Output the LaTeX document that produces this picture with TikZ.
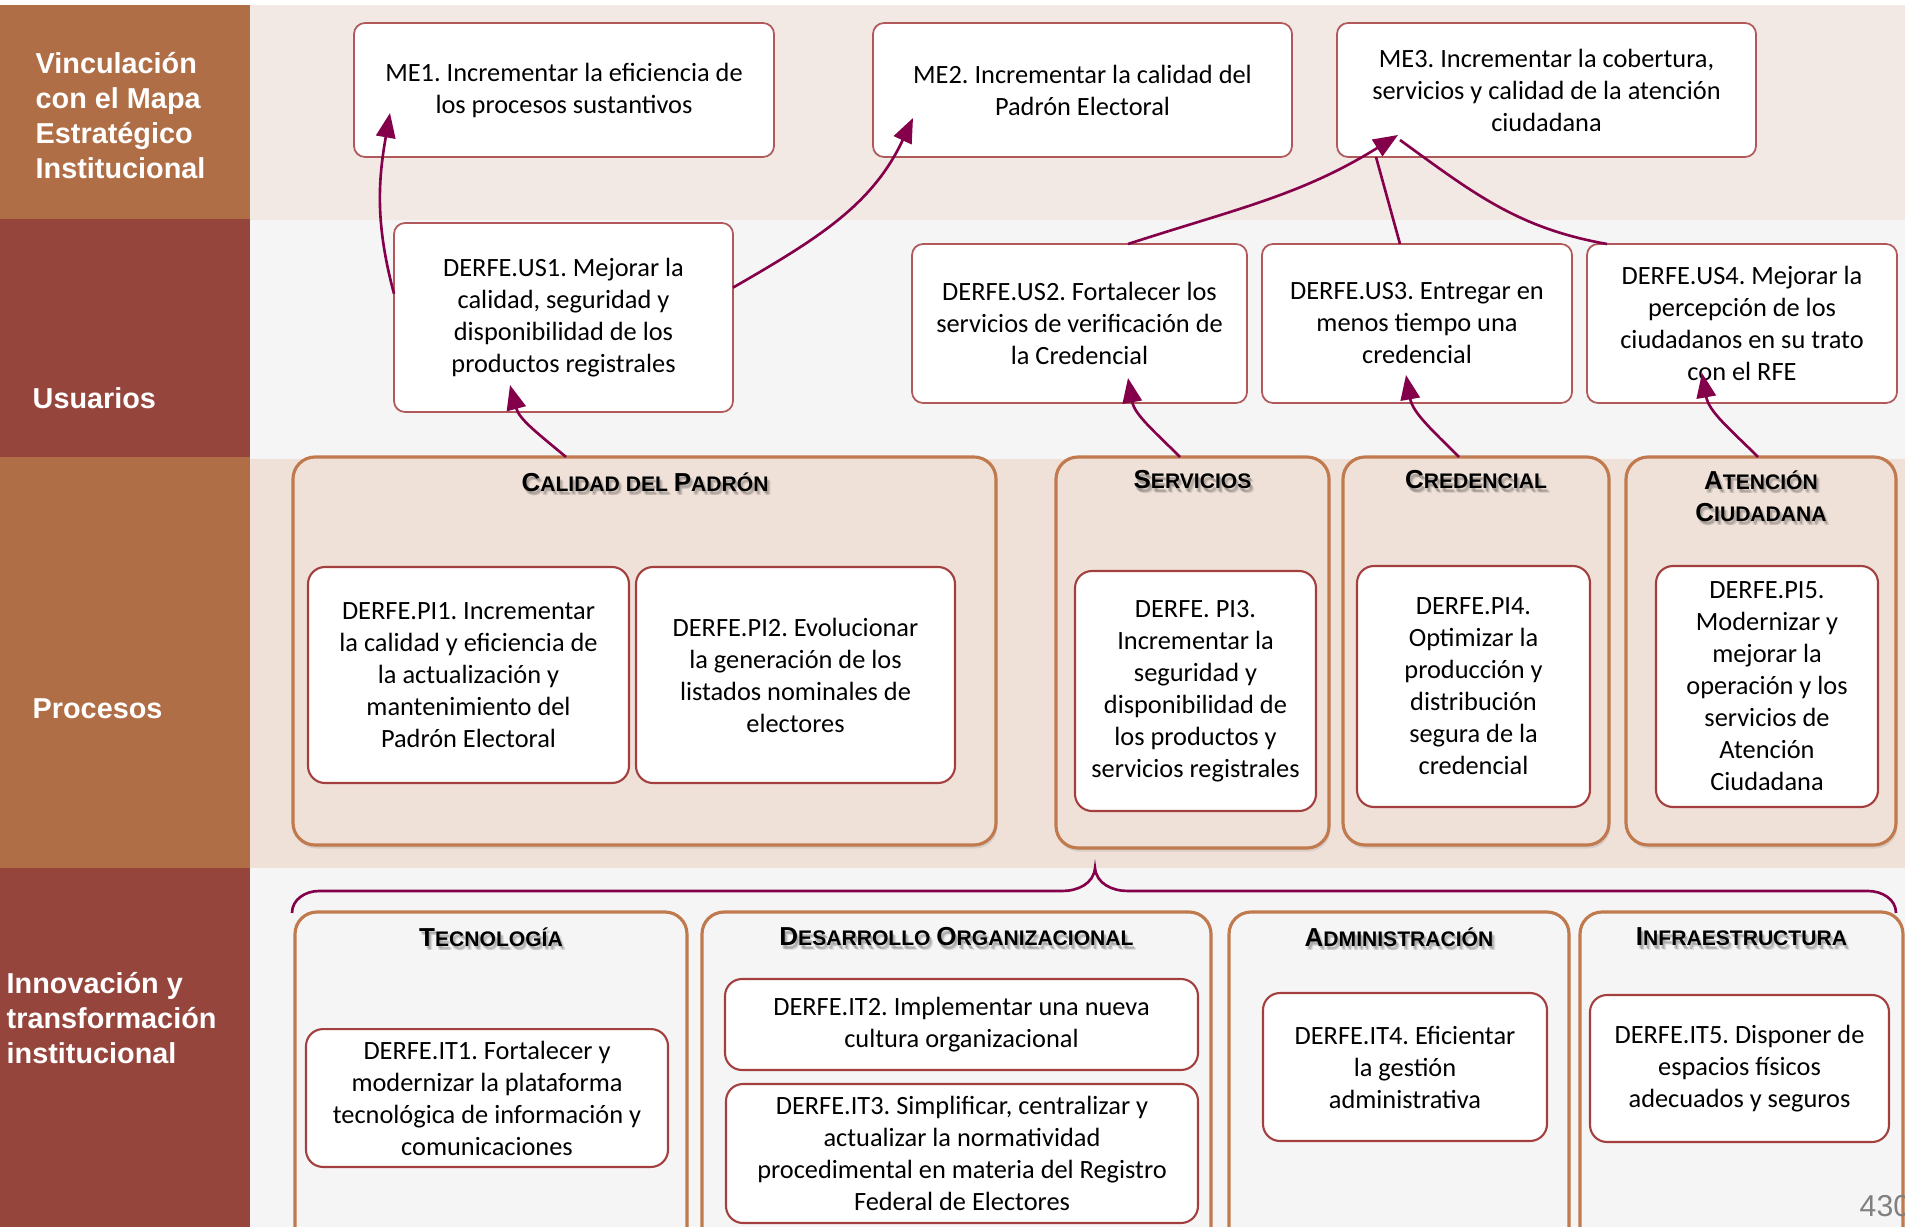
\documentclass[tikz,border=0pt]{standalone}
\usepackage{fontspec}
\setmainfont{Carlito}
\newfontfamily\arialfont{Liberation Sans}
\usetikzlibrary{calc,arrows.meta,shadows}
\frenchspacing

\definecolor{sideorange}{HTML}{B06E46}
\definecolor{sidered}{HTML}{96453C}
\definecolor{bandpink}{HTML}{F2E9E4}
\definecolor{bandgray}{HTML}{F5F5F5}
\definecolor{bandbeige}{HTML}{EFE1D8}
\definecolor{boxline}{HTML}{B0585A}
\definecolor{innerline}{HTML}{A3403F}
\definecolor{groupline}{HTML}{C07A4E}
\definecolor{linkred}{HTML}{84004A}

\def\scfirst#1{{\fontsize{7.4pt}{7.4pt}\selectfont #1}}
\def\sectitle(#1)(#2)#3{%
	\foreach \sx/\sy in {0.012/-0.022, 0.025/-0.035, 0.035/-0.045, 0.018/-0.04}
		\node[titleshade] at ($(#2)+(\sx,\sy)$) {#3};
	\node[titletext] (#1) at (#2) {#3};}

\tikzset{
	sidelabel/.style={anchor=west, align=left, inner sep=0pt, text=white, font=\arialfont\bfseries\fontsize{8.2pt}{10pt}\selectfont},
	goalbox/.style={draw=boxline, fill=white, line width=0.5pt, rounded corners=0.11cm, align=center, outer sep=0pt, font=\fontsize{7.5pt}{9.1pt}\selectfont},
	itembox/.style={goalbox, draw=innerline, line width=0.6pt, rounded corners=0.17cm},
	groupbox/.style={draw=groupline, line width=0.9pt, rounded corners=0.22cm, outer sep=0pt, drop shadow={shadow xshift=0.4pt, shadow yshift=-1pt, opacity=0.2}},
	titletext/.style={align=center, font=\arialfont\bfseries\fontsize{6pt}{9.1pt}\selectfont},
	titleshade/.style={titletext, text=black, text opacity=0.09},
	link/.style={draw=linkred, line width=0.75pt},
	linkarrow/.style={link, -{Triangle[length=7pt,width=5.5pt]}},
}

\begin{document}
\begin{tikzpicture}
		%%%%% START %%%%%
		\useasboundingbox (0,0) rectangle (19.05,-12.27);
		\clip (0,0) rectangle (19.05,-12.27);
		
		\fill[white] (0,0) rectangle (19.05,-12.27);
		\fill[bandpink] (2.50,-0.05) rectangle (19.05,-2.20);
		\fill[bandgray] (2.50,-2.20) rectangle (19.05,-4.59);
		\fill[bandbeige] (2.50,-4.59) rectangle (19.05,-8.68);
		\fill[bandgray] (2.50,-8.68) rectangle (19.05,-12.27);
		\fill[sideorange] (0,-0.05) rectangle (2.50,-2.19);
		\fill[sidered] (0,-2.19) rectangle (2.50,-4.57);
		\fill[sideorange] (0,-4.57) rectangle (2.50,-8.68);
		\fill[sidered] (0,-8.68) rectangle (2.50,-12.27);
		
		\node[sidelabel] (vinculacion) at (0.35,-1.155) {Vinculación\\con el Mapa\\Estratégico\\Institucional};
		\node[sidelabel] (usuarios) at (0.32,-3.98) {Usuarios};
		\node[sidelabel] (procesos) at (0.32,-7.09) {Procesos};
		\node[sidelabel] (innovacion) at (0.06,-10.18) {Innovación y\\transformación\\institucional};
		
		% mapa estrategico
		\node[goalbox, minimum width=4.20cm, minimum height=1.34cm] (me1) at (5.64,-0.90) {ME1. Incrementar la eficiencia de\\los procesos sustantivos};
		\node[goalbox, minimum width=4.19cm, minimum height=1.34cm] (me2) at (10.825,-0.90) {ME2. Incrementar la calidad del\\Padrón Electoral};
		\node[goalbox, minimum width=4.19cm, minimum height=1.34cm] (me3) at (15.465,-0.90) {ME3. Incrementar la cobertura,\\servicios y calidad de la atención\\ciudadana};
		
		% usuarios
		\node[goalbox, minimum width=3.39cm, minimum height=1.89cm] (us1) at (5.635,-3.175) {DERFE.US1. Mejorar la\\calidad, seguridad y\\disponibilidad de los\\productos registrales};
		\node[goalbox, minimum width=3.35cm, minimum height=1.59cm] (us2) at (10.795,-3.235) {DERFE.US2. Fortalecer los\\servicios de verificación de\\la Credencial};
		\node[goalbox, minimum width=3.10cm, minimum height=1.59cm] (us3) at (14.17,-3.235) {DERFE.US3. Entregar en\\menos tiempo una\\credencial};
		\node[goalbox, minimum width=3.10cm, minimum height=1.59cm] (us4) at (17.42,-3.235) {DERFE.US4. Mejorar la\\percepción de los\\ciudadanos en su trato\\con el RFE};
		
		% procesos
		\node[groupbox, fill=bandbeige, minimum width=7.03cm, minimum height=3.88cm] (calidad) at (6.445,-6.51) {};
		\node[groupbox, fill=bandbeige, minimum width=2.73cm, minimum height=3.91cm] (servicios) at (11.925,-6.525) {};
		\node[groupbox, fill=bandbeige, minimum width=2.66cm, minimum height=3.88cm] (credencial) at (14.76,-6.51) {};
		\node[groupbox, fill=bandbeige, minimum width=2.70cm, minimum height=3.88cm] (atencion) at (17.61,-6.51) {};
		
		\sectitle(tcalidad)(6.45,-4.82){\scfirst{C}ALIDAD DEL \scfirst{P}ADRÓN}
		\sectitle(tservicios)(11.925,-4.80){\scfirst{S}ERVICIOS}
		\sectitle(tcredencial)(14.76,-4.80){\scfirst{C}REDENCIAL}
		\sectitle(tatencion)(17.61,-4.96){\scfirst{A}TENCIÓN\\\scfirst{C}IUDADANA}
		
		\node[itembox, minimum width=3.21cm, minimum height=2.16cm] (pi1) at (4.685,-6.75) {DERFE.PI1. Incrementar\\la calidad y eficiencia de\\la actualización y\\mantenimiento del\\Padrón Electoral};
		\node[itembox, minimum width=3.19cm, minimum height=2.16cm] (pi2) at (7.955,-6.75) {DERFE.PI2. Evolucionar\\la generación de los\\listados nominales de\\electores};
		\node[itembox, minimum width=2.41cm, minimum height=2.40cm] (pi3) at (11.955,-6.91) {DERFE. PI3.\\Incrementar la\\seguridad y\\disponibilidad de\\los productos y\\servicios registrales};
		\node[itembox, minimum width=2.33cm, minimum height=2.41cm] (pi4) at (14.735,-6.865) {DERFE.PI4.\\Optimizar la\\producción y\\distribución\\segura de la\\credencial};
		\node[itembox, minimum width=2.22cm, minimum height=2.41cm] (pi5) at (17.67,-6.865) {DERFE.PI5.\\Modernizar y\\mejorar la\\operación y los\\servicios de\\Atención\\Ciudadana};
		
		% innovacion y transformacion
		\draw[link] (2.92,-9.13) to[out=90,in=180] (3.19,-8.91) -- (10.62,-8.91) to[out=0,in=-95] (10.95,-8.68) to[out=-85,in=180] (11.28,-8.91) -- (18.68,-8.91) to[out=0,in=90] (18.96,-9.13);
		
		\node[groupbox, fill=bandgray, minimum width=3.92cm, minimum height=3.40cm] (tecnologia) at (4.91,-10.82) {};
		\node[groupbox, fill=bandgray, minimum width=5.09cm, minimum height=3.40cm] (desarrollo) at (9.565,-10.82) {};
		\node[groupbox, fill=bandgray, minimum width=3.40cm, minimum height=3.40cm] (administracion) at (13.99,-10.82) {};
		\node[groupbox, fill=bandgray, minimum width=3.23cm, minimum height=3.40cm] (infraestructura) at (17.415,-10.82) {};
		
		\sectitle(ttecnologia)(4.91,-9.37){\scfirst{T}ECNOLOGÍA}
		\sectitle(tdesarrollo)(9.565,-9.37){\scfirst{D}ESARROLLO \scfirst{O}RGANIZACIONAL}
		\sectitle(tadministracion)(13.99,-9.37){\scfirst{A}DMINISTRACIÓN}
		\sectitle(tinfraestructura)(17.415,-9.37){\scfirst{I}NFRAESTRUCTURA}
		
		\node[itembox, minimum width=3.62cm, minimum height=1.34cm] (it1) at (4.87,-10.98) {DERFE.IT1. Fortalecer y\\modernizar la plataforma\\tecnológica de información y\\comunicaciones};
		\node[itembox, minimum width=4.73cm, minimum height=0.91cm] (it2) at (9.615,-10.245) {DERFE.IT2. Implementar una nueva\\cultura organizacional};
		\node[itembox, minimum width=4.72cm, minimum height=1.39cm] (it3) at (9.62,-11.535) {DERFE.IT3. Simplificar, centralizar y\\actualizar la normatividad\\procedimental en materia del Registro\\Federal de Electores};
		\node[itembox, minimum width=2.84cm, minimum height=1.48cm] (it4) at (14.05,-10.67) {DERFE.IT4. Eficientar\\la gestión\\administrativa};
		\node[itembox, minimum width=2.99cm, minimum height=1.47cm] (it5) at (17.395,-10.685) {DERFE.IT5. Disponer de\\espacios físicos\\adecuados y seguros};
		
		% vinculos
		\draw[linkarrow] (us1.172) to[out=105,in=-100] ($(me1.south west)+(0.36,0.44)$);
		\draw[linkarrow] (us1.10) to[out=30,in=-115] ($(me2.south west)+(0.40,0.39)$);
		\draw[linkarrow] ($(us2.north)+(0.485,0)$) to[out=18,in=-148] ($(me3.south west)+(0.61,0.22)$);
		\draw[link] ($(us3.north)+(-0.17,0)$) -- ($(me3.south west)+(0.39,0)$);
		\draw[link] ($(us4.north west)+(0.20,0)$) to[out=170,in=-36] ($(me3.south west)+(0.63,0.17)$);
		
		\draw[linkarrow] ($(calidad.north)+(-0.785,0)$) to[out=140,in=-75] ($(us1.south)+(-0.535,0.27)$);
		\draw[linkarrow] ($(servicios.north)+(-0.125,0)$) to[out=135,in=-80] ($(us2.south)+(0.485,0.25)$);
		\draw[linkarrow] ($(credencial.north)+(-0.17,0)$) to[out=135,in=-80] ($(us3.south)+(-0.11,0.28)$);
		\draw[linkarrow] ($(atencion.north)+(-0.03,0)$) to[out=135,in=-80] ($(us4.south)+(-0.40,0.30)$);
		
		\node[anchor=west, inner sep=0pt, text=black!50, font=\arialfont\fontsize{8.6pt}{8.6pt}\selectfont] (pagina) at (18.59,-12.06) {430};
		%%%%% END %%%%%
\end{tikzpicture}
\end{document}
